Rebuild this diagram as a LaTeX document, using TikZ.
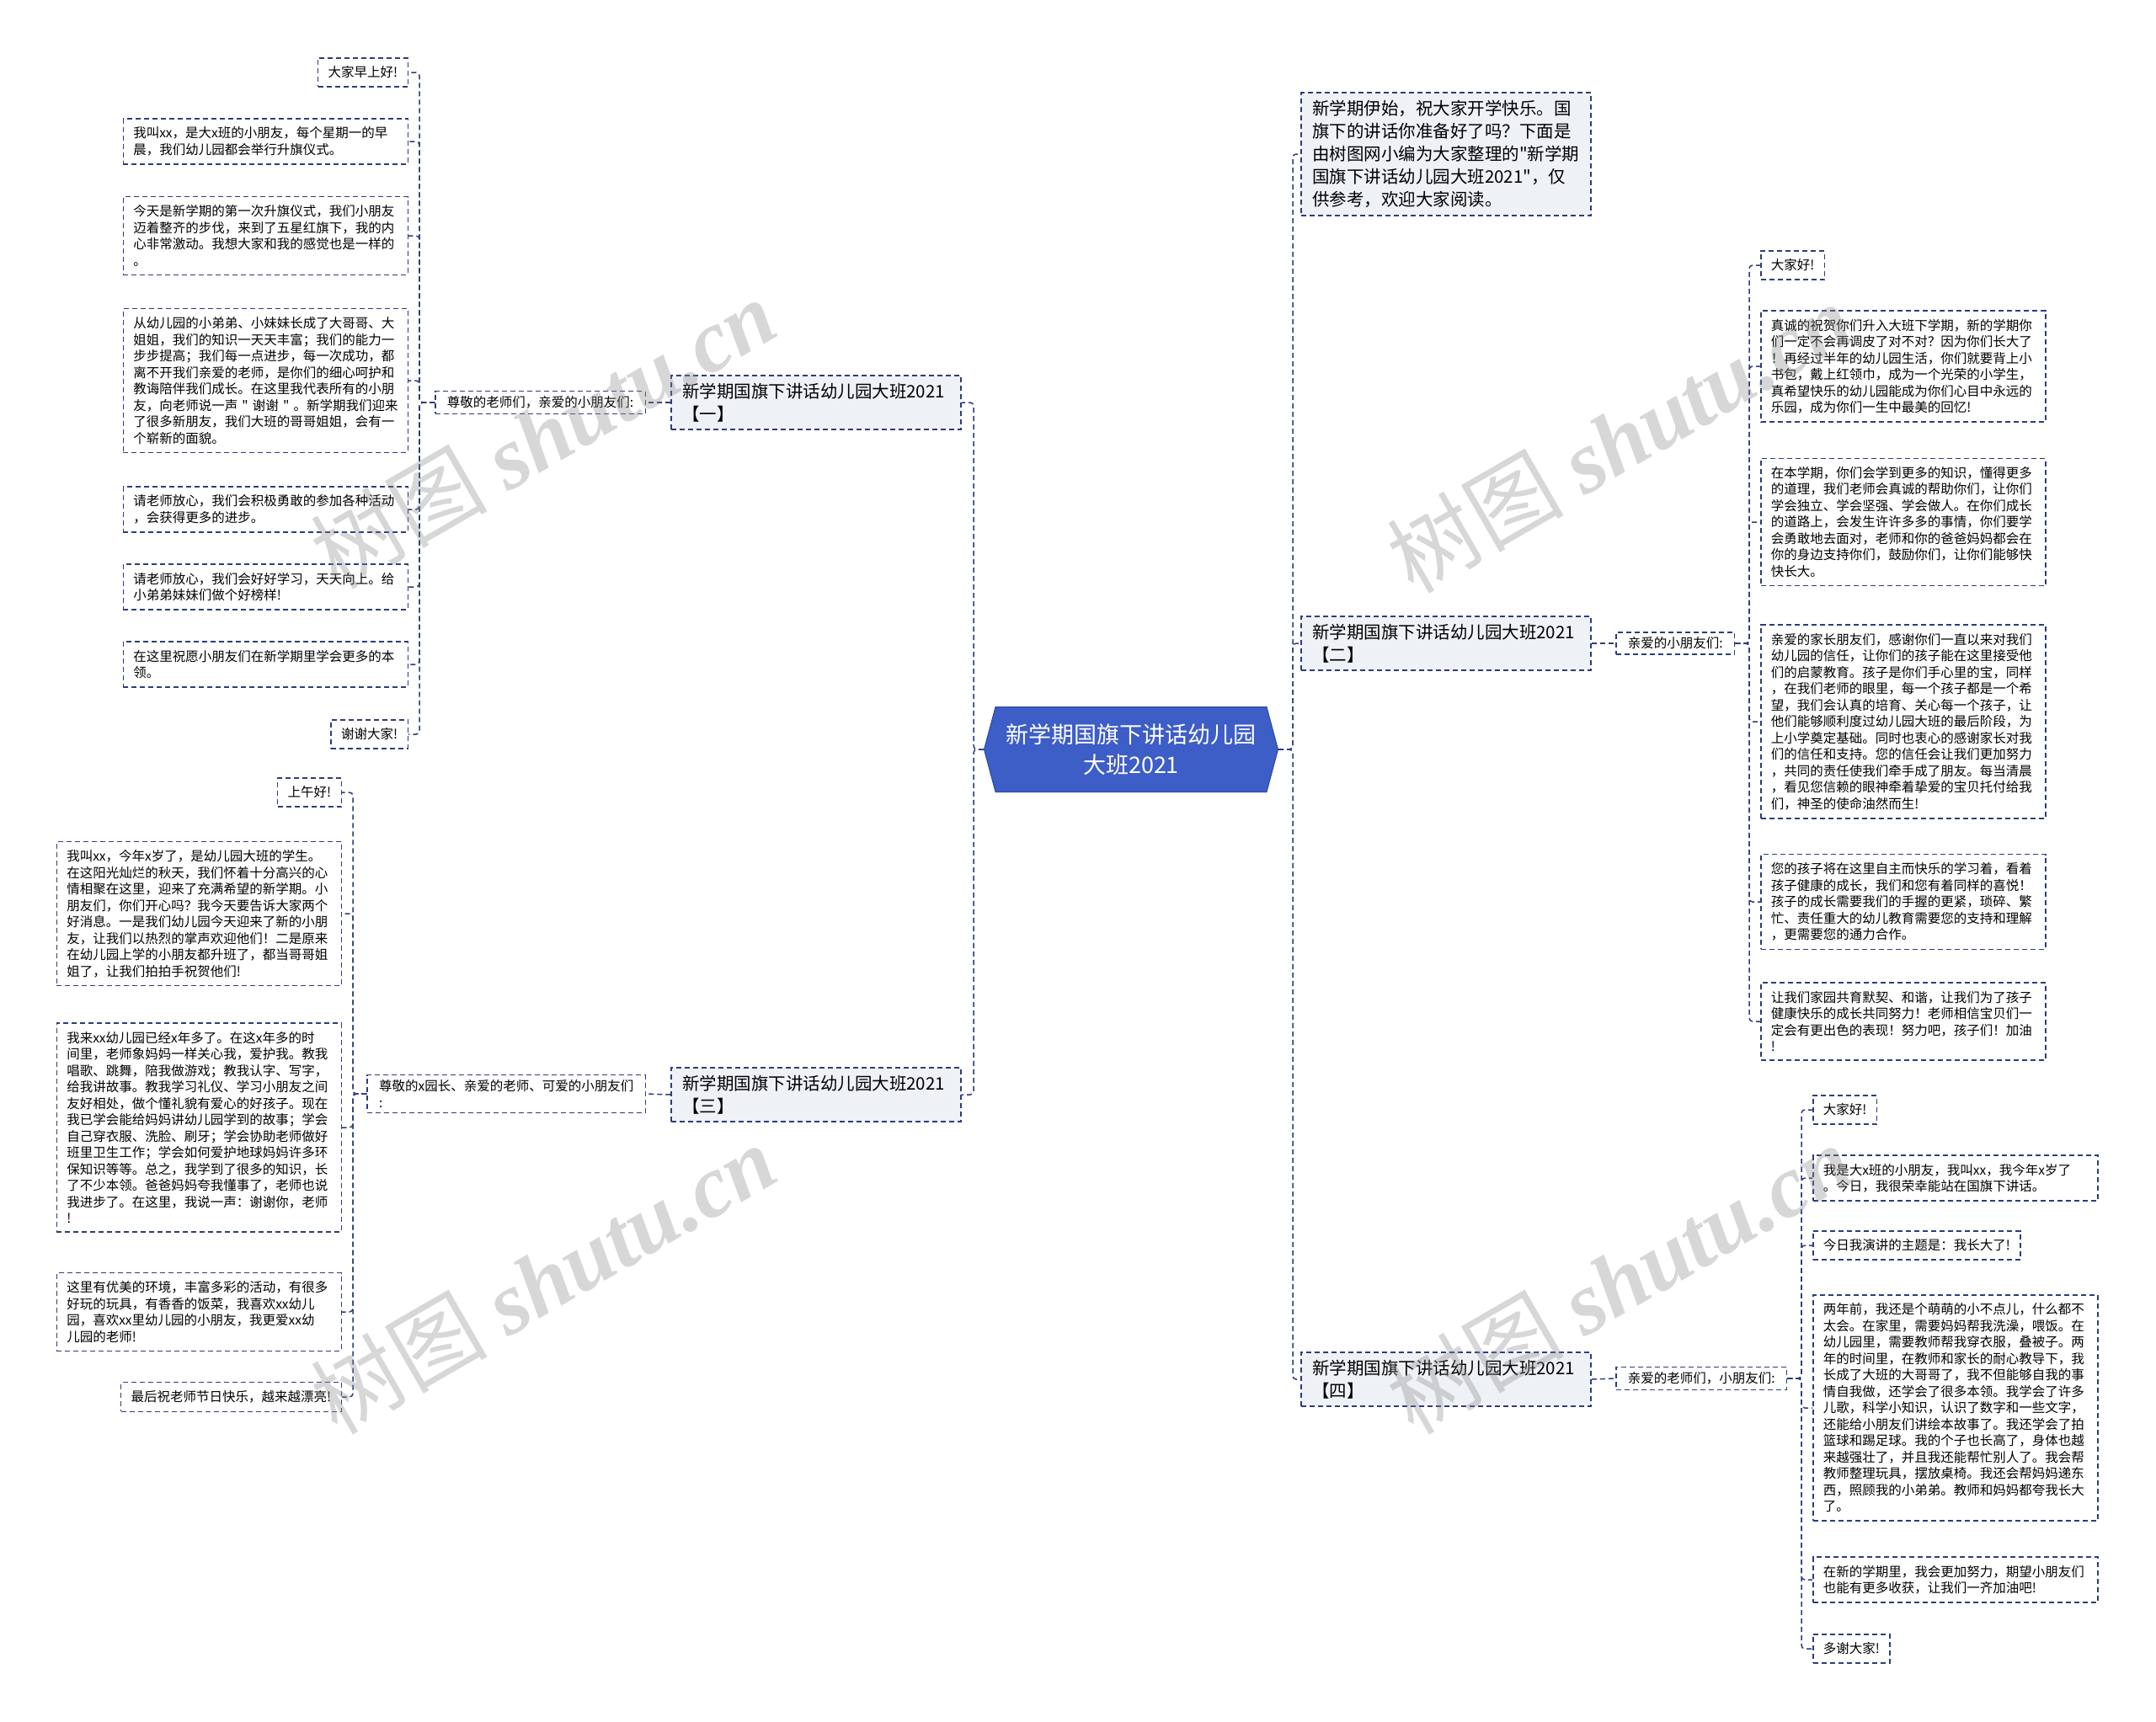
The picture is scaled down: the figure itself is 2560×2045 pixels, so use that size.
\documentclass[tikz,border=0pt]{standalone}
\usepackage{fontspec}
\setmainfont{Noto Sans CJK SC}[Ligatures=TeXOff]
\newfontfamily\wmlatin{Liberation Serif}
\usetikzlibrary{shapes.symbols}

\definecolor{linkblue}{HTML}{2D3C7C}
\definecolor{hubblue}{HTML}{3D5DC7}
\definecolor{hubedge}{HTML}{2C47A8}
\definecolor{branchfill}{HTML}{EEF1F6}

\newcommand{\leaffont}{\fontsize{15.5}{19.5}\selectfont}
\newcommand{\branchfont}{\fontsize{20.5}{27}\selectfont}
\newcommand{\hubfont}{\fontsize{27}{36}\selectfont}

\tikzset{
  link/.style={draw=linkblue, line width=1.5pt, dash pattern=on 6pt off 4pt, rounded corners=4pt},
  leaf/.style={draw=linkblue, line width=1.5pt, dash pattern=on 6pt off 4pt, fill=white,
    font=\leaffont, align=left, inner xsep=12pt, inner ysep=10pt},
  longleaf/.style={leaf, text width=314pt},
  sublabel/.style={leaf, inner xsep=14pt, inner ysep=6pt},
  branch/.style={draw=linkblue, line width=1.5pt, dash pattern=on 6pt off 4pt, fill=branchfill,
    font=\branchfont, align=left, text width=318pt, inner xsep=13pt, inner ysep=9pt},
  hub/.style={signal, signal to=west and east, signal pointer angle=150, fill=hubblue,
    draw=hubedge, line width=1pt, text=white, font=\hubfont, align=center,
    minimum width=349pt, minimum height=101pt, inner xsep=10pt},
  wmark/.style={rotate=30, text=black!45, text opacity=0.35, inner sep=0pt}
}

\begin{document}
\begin{tikzpicture}[x=1pt, y=-1pt]

    % Fix the page to the reference size
    \useasboundingbox (0,0) rectangle (2560,2045);

    % Central topic
    \node[hub] (hub) at (1343,890) {新学期国旗下讲话幼儿园\\大班2021};

    % Main branches
    \node[branch] (b1) at (969,478) {新学期国旗下讲话幼儿园大班2021\\【一】};
    \node[branch] (b3) at (969,1300) {新学期国旗下讲话幼儿园大班2021\\【三】};
    \node[branch] (intro) at (1717,183) {新学期伊始，祝大家开学快乐。国\\旗下的讲话你准备好了吗？下面是\\由树图网小编为大家整理的"新学期\\国旗下讲话幼儿园大班2021"，仅\\供参考，欢迎大家阅读。};
    \node[branch] (b2) at (1717,764) {新学期国旗下讲话幼儿园大班2021\\【二】};
    \node[branch] (b4) at (1717,1638) {新学期国旗下讲话幼儿园大班2021\\【四】};

    % Greetings under each branch
    \node[sublabel, anchor=east] (l1) at (767,478) {尊敬的老师们，亲爱的小朋友们:};
    \node[sublabel, anchor=east] (l3) at (767,1299) {尊敬的x园长、亲爱的老师、可爱的小朋友们\\:};
    \node[sublabel, anchor=west] (r2) at (1918,764) {亲爱的小朋友们:};
    \node[sublabel, anchor=west] (r4) at (1918,1637) {亲爱的老师们，小朋友们:};

    % Trunk points where the leaf connectors turn
    \coordinate (hl) at (1156,890);
    \coordinate (hr) at (1535,890);
    \coordinate (t1) at (498,478);
    \coordinate (t3) at (419,1299);
    \coordinate (t2) at (2077,764);
    \coordinate (t4) at (2139,1637);

    % Leaves of branch one
    \node[leaf, anchor=east] (g1a) at (485,86) {大家早上好!};
    \node[longleaf, anchor=east] (g1b) at (485,168) {我叫xx，是大x班的小朋友，每个星期一的早\\晨，我们幼儿园都会举行升旗仪式。};
    \node[longleaf, anchor=east] (g1c) at (485,280) {今天是新学期的第一次升旗仪式，我们小朋友\\迈着整齐的步伐，来到了五星红旗下，我的内\\心非常激动。我想大家和我的感觉也是一样的\\。};
    \node[longleaf, anchor=east] (g1d) at (485,452) {从幼儿园的小弟弟、小妹妹长成了大哥哥、大\\姐姐，我们的知识一天天丰富；我们的能力一\\步步提高；我们每一点进步，每一次成功，都\\离不开我们亲爱的老师，是你们的细心呵护和\\教诲陪伴我们成长。在这里我代表所有的小朋\\\mbox{友，向老师说一声 " 谢谢 " 。新学期我们迎来}\\了很多新朋友，我们大班的哥哥姐姐，会有一\\个崭新的面貌。};
    \node[longleaf, anchor=east] (g1e) at (485,605) {请老师放心，我们会积极勇敢的参加各种活动\\，会获得更多的进步。};
    \node[longleaf, anchor=east] (g1f) at (485,697) {请老师放心，我们会好好学习，天天向上。给\\小弟弟妹妹们做个好榜样!};
    \node[longleaf, anchor=east] (g1g) at (485,789) {在这里祝愿小朋友们在新学期里学会更多的本\\领。};
    \node[leaf, anchor=east] (g1h) at (485,872) {谢谢大家!};

    % Leaves of branch three
    \node[leaf, anchor=east] (g3a) at (406,941) {上午好!};
    \node[longleaf, anchor=east] (g3b) at (406,1085) {我叫xx，今年x岁了，是幼儿园大班的学生。\\在这阳光灿烂的秋天，我们怀着十分高兴的心\\情相聚在这里，迎来了充满希望的新学期。小\\朋友们，你们开心吗？我今天要告诉大家两个\\好消息。一是我们幼儿园今天迎来了新的小朋\\友，让我们以热烈的掌声欢迎他们！二是原来\\在幼儿园上学的小朋友都升班了，都当哥哥姐\\姐了，让我们拍拍手祝贺他们!};
    \node[longleaf, anchor=east] (g3c) at (406,1339) {我来xx幼儿园已经x年多了。在这x年多的时\\间里，老师象妈妈一样关心我，爱护我。教我\\唱歌、跳舞，陪我做游戏；教我认字、写字，\\给我讲故事。教我学习礼仪、学习小朋友之间\\友好相处，做个懂礼貌有爱心的好孩子。现在\\我已学会能给妈妈讲幼儿园学到的故事；学会\\自己穿衣服、洗脸、刷牙；学会协助老师做好\\班里卫生工作；学会如何爱护地球妈妈许多环\\保知识等等。总之，我学到了很多的知识，长\\了不少本领。爸爸妈妈夸我懂事了，老师也说\\我进步了。在这里，我说一声：谢谢你，老师\\!};
    \node[longleaf, anchor=east] (g3d) at (406,1558) {这里有优美的环境，丰富多彩的活动，有很多\\好玩的玩具，有香香的饭菜，我喜欢xx幼儿\\园，喜欢xx里幼儿园的小朋友，我更爱xx幼\\儿园的老师!};
    \node[leaf, anchor=east] (g3e) at (406,1659) {最后祝老师节日快乐，越来越漂亮!};

    % Leaves of branch two
    \node[leaf, anchor=west] (r2a) at (2090,315) {大家好!};
    \node[longleaf, anchor=west] (r2b) at (2090,435) {真诚的祝贺你们升入大班下学期，新的学期你\\们一定不会再调皮了对不对？因为你们长大了\\！再经过半年的幼儿园生活，你们就要背上小\\书包，戴上红领巾，成为一个光荣的小学生，\\真希望快乐的幼儿园能成为你们心目中永远的\\乐园，成为你们一生中最美的回忆!};
    \node[longleaf, anchor=west] (r2c) at (2090,620) {在本学期，你们会学到更多的知识，懂得更多\\的道理，我们老师会真诚的帮助你们，让你们\\学会独立、学会坚强、学会做人。在你们成长\\的道路上，会发生许许多多的事情，你们要学\\会勇敢地去面对，老师和你的爸爸妈妈都会在\\你的身边支持你们，鼓励你们，让你们能够快\\快长大。};
    \node[longleaf, anchor=west] (r2d) at (2090,857) {亲爱的家长朋友们，感谢你们一直以来对我们\\幼儿园的信任，让你们的孩子能在这里接受他\\们的启蒙教育。孩子是你们手心里的宝，同样\\，在我们老师的眼里，每一个孩子都是一个希\\望，我们会认真的培育、关心每一个孩子，让\\他们能够顺利度过幼儿园大班的最后阶段，为\\上小学奠定基础。同时也衷心的感谢家长对我\\们的信任和支持。您的信任会让我们更加努力\\，共同的责任使我们牵手成了朋友。每当清晨\\，看见您信赖的眼神牵着挚爱的宝贝托付给我\\们，神圣的使命油然而生!};
    \node[longleaf, anchor=west] (r2e) at (2090,1071) {您的孩子将在这里自主而快乐的学习着，看着\\孩子健康的成长，我们和您有着同样的喜悦！\\孩子的成长需要我们的手握的更紧，琐碎、繁\\忙、责任重大的幼儿教育需要您的支持和理解\\，更需要您的通力合作。};
    \node[longleaf, anchor=west] (r2f) at (2090,1213) {让我们家园共育默契、和谐，让我们为了孩子\\健康快乐的成长共同努力！老师相信宝贝们一\\定会有更出色的表现！努力吧，孩子们！加油\\!};

    % Leaves of branch four
    \node[leaf, anchor=west] (r4a) at (2152,1318) {大家好!};
    \node[longleaf, anchor=west] (r4b) at (2152,1399) {我是大x班的小朋友，我叫xx，我今年x岁了\\。今日，我很荣幸能站在国旗下讲话。};
    \node[leaf, anchor=west] (r4c) at (2152,1479) {今日我演讲的主题是：我长大了!};
    \node[longleaf, anchor=west] (r4d) at (2152,1672) {两年前，我还是个萌萌的小不点儿，什么都不\\太会。在家里，需要妈妈帮我洗澡，喂饭。在\\幼儿园里，需要教师帮我穿衣服，叠被子。两\\年的时间里，在教师和家长的耐心教导下，我\\长成了大班的大哥哥了，我不但能够自我的事\\情自我做，还学会了很多本领。我学会了许多\\儿歌，科学小知识，认识了数字和一些文字，\\还能给小朋友们讲绘本故事了。我还学会了拍\\篮球和踢足球。我的个子也长高了，身体也越\\来越强壮了，并且我还能帮忙别人了。我会帮\\教师整理玩具，摆放桌椅。我还会帮妈妈递东\\西，照顾我的小弟弟。教师和妈妈都夸我长大\\了。};
    \node[longleaf, anchor=west] (r4e) at (2152,1876) {在新的学期里，我会更加努力，期望小朋友们\\也能有更多收获，让我们一齐加油吧!};
    \node[leaf, anchor=west] (r4f) at (2152,1958) {多谢大家!};

    % Connectors from the centre
    \foreach \b in {b1,b3}
        \draw[link] (hub.west) -- (hl) |- (\b.east);
    \foreach \b in {intro,b2,b4}
        \draw[link] (hub.east) -- (hr) |- (\b.west);

    % Branch to greeting
    \draw[link] (b1.west) -- (l1.east);
    \draw[link] (b3.west) -- (l3.east);
    \draw[link] (b2.east) -- (r2.west);
    \draw[link] (b4.east) -- (r4.west);

    % Greeting to leaves
    \foreach \c in {g1a,g1b,g1c,g1d,g1e,g1f,g1g,g1h}
        \draw[link] (l1.west) -- (t1) |- (\c.east);
    \foreach \c in {g3a,g3b,g3c,g3d,g3e}
        \draw[link] (l3.west) -- (t3) |- (\c.east);
    \foreach \c in {r2a,r2b,r2c,r2d,r2e,r2f}
        \draw[link] (r2.east) -- (t2) |- (\c.west);
    \foreach \c in {r4a,r4b,r4c,r4d,r4e,r4f}
        \draw[link] (r4.east) -- (t4) |- (\c.west);

    % Watermarks
    \foreach \p [count=\i] in {(645,514),(645,1518),(1923,519),(1923,1518)}
        \node[wmark] (wm\i) at \p {\fontsize{105}{110}\selectfont 树图 {\wmlatin\bfseries\itshape shutu.cn}};

\end{tikzpicture}
\end{document}
